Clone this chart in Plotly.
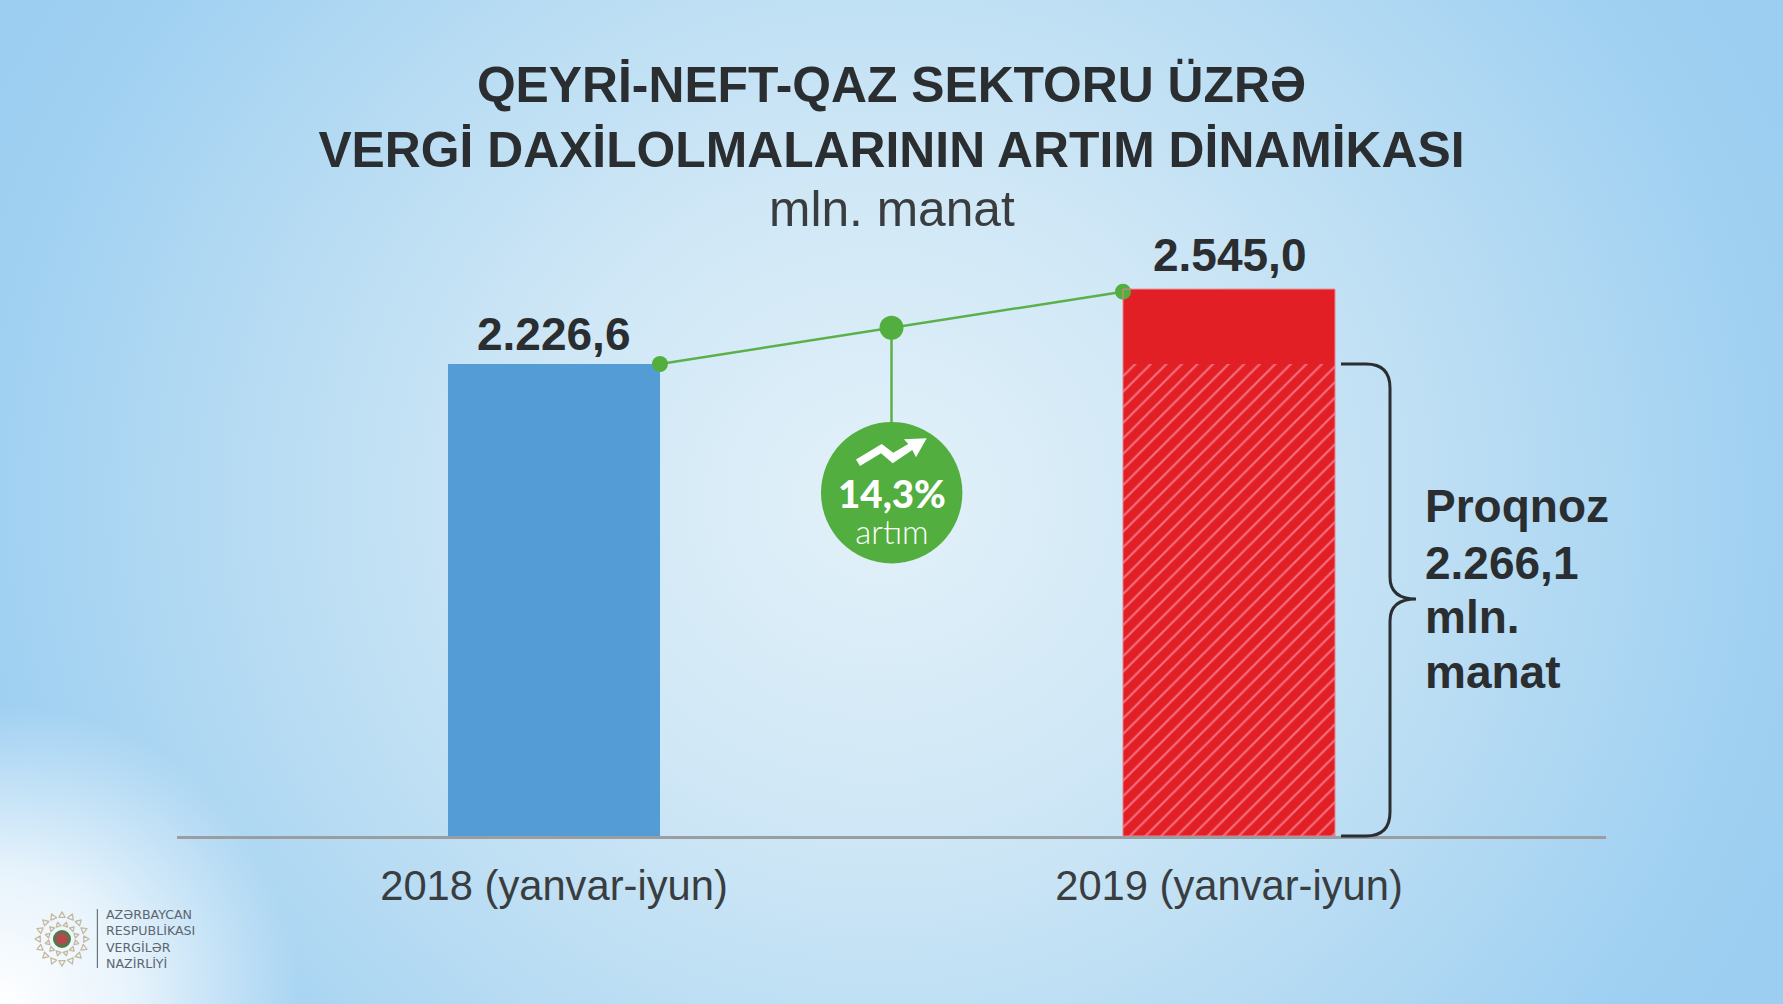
import base64
import math
import plotly.graph_objects as go

# ---------- data ----------
periods = ["2018 (yanvar-iyun)", "2019 (yanvar-iyun)"]
period_pos = [0, 1]
value_labels = ["2.226,6", "2.545,0"]
# heights as drawn in the picture (the 2019 bar is not drawn strictly to scale)
blue_height = [2226.6]
red_forecast_height = [2226.6]
red_extra_height = [353.4]
line_values = [2226.6, 2568.0]
forecast_lines = ["Proqnoz", "2.266,1", "mln.", "manat"]
title_lines = ["QEYRİ-NEFT-QAZ SEKTORU ÜZRƏ", "VERGİ DAXİLOLMALARININ ARTIM DİNAMİKASI"]
subtitle = "mln. manat"
badge_value = "14,3%"
badge_word = "artım"
logo_lines = ["AZƏRBAYCAN", "RESPUBLİKASI", "VERGİLƏR", "NAZİRLİYİ"]

# ---------- layout constants ----------
W, H = 1783, 1004
L, R, T, B = 177, 177, 0, 168
PW, PH = W - L - R, H - T - B
BAR_W = 0.314
INK = "#2B2E30"
GREEN = "#52AE3F"


def px(x):
    return (x - L) / PW


def py(y):
    return 1 - (y - T) / PH


def path(points):
    return "M" + " L".join(f"{px(x):.5f},{py(y):.5f}" for x, y in points) + " Z"


# ---------- background (decorative) ----------
ring = []
for radius, count, size, off in [(23.5, 16, 3.6, 0), (14.5, 12, 2.8, 0.5)]:
    for i in range(count):
        a = (i + off) * 2 * math.pi / count
        cx, cy = 62 + radius * math.cos(a), 939 + radius * math.sin(a)
        pts = []
        for k in range(3):
            b = a + k * 2 * math.pi / 3
            pts.append(f"{cx + size * math.cos(b):.1f},{cy + size * math.sin(b):.1f}")
        ring.append(f'<polygon points="{" ".join(pts)}" fill="none" stroke="#C4B99F" stroke-width="1.3" stroke-linejoin="round"/>')

svg = f'''<svg xmlns="http://www.w3.org/2000/svg" width="{W}" height="{H}" viewBox="0 0 {W} {H}">
<defs>
<radialGradient id="a" gradientUnits="userSpaceOnUse" cx="880" cy="500" r="1000" gradientTransform="translate(880 500) scale(1 0.95) translate(-880 -500)">
<stop offset="0" stop-color="#E2F1F9"/><stop offset="0.35" stop-color="#CFE7F6"/>
<stop offset="0.62" stop-color="#B8DCF3"/><stop offset="0.9" stop-color="#9FD0F2"/><stop offset="1" stop-color="#9CCEF1"/>
</radialGradient>
<radialGradient id="b" gradientUnits="userSpaceOnUse" cx="0" cy="1004" r="300">
<stop offset="0" stop-color="#FFFFFF" stop-opacity="1"/><stop offset="0.45" stop-color="#FFFFFF" stop-opacity="0.75"/>
<stop offset="1" stop-color="#FFFFFF" stop-opacity="0"/>
</radialGradient>
</defs>
<rect width="{W}" height="{H}" fill="url(#a)"/>
<rect width="{W}" height="{H}" fill="url(#b)"/>
{"".join(ring)}
<circle cx="62" cy="939" r="7.5" fill="#B5484E" stroke="#4E7A47" stroke-width="3"/>
<rect x="96.8" y="909" width="1.2" height="59" fill="#6B7278"/>
</svg>'''
bg = "data:image/svg+xml;base64," + base64.b64encode(svg.encode()).decode()

# ---------- traces ----------
fig = go.Figure()
fig.add_bar(x=period_pos[:1], y=blue_height, width=BAR_W, marker=dict(color="#539CD6", line_width=0), showlegend=False)
fig.add_bar(x=period_pos[1:], y=red_forecast_height, width=BAR_W,
            marker=dict(color="#E31F26", line_width=0,
                        pattern=dict(shape="/", bgcolor="#E31F26", fgcolor="#F4707F", fgopacity=1, size=11, solidity=0.2)),
            showlegend=False)
fig.add_bar(x=period_pos[1:], y=red_extra_height, width=BAR_W, marker=dict(color="#E31F26", line_width=0), showlegend=False)

x_left = period_pos[0] + BAR_W / 2
x_right = period_pos[1] - BAR_W / 2
x_mid = (x_left + x_right) / 2
y_mid = sum(line_values) / 2
fig.add_scatter(x=[x_left, x_right], y=line_values, mode="lines+markers",
                line=dict(color="#5AB04A", width=2.5), marker=dict(color=GREEN, size=16), showlegend=False, cliponaxis=False)
fig.add_scatter(x=[x_mid, x_mid], y=[y_mid, 1650], mode="lines", line=dict(color="#5AB04A", width=2.5), showlegend=False)
fig.add_scatter(x=[x_mid], y=[y_mid], mode="markers", marker=dict(color=GREEN, size=24), showlegend=False)

shapes = [
    # badge
    dict(type="circle", xref="paper", yref="paper", x0=px(891.7 - 70.7), x1=px(891.7 + 70.7),
         y0=py(492.7 + 70.7), y1=py(492.7 - 70.7), fillcolor=GREEN, line_width=0),
    # arrow in badge
    dict(type="path", xref="paper", yref="paper", line_width=0, fillcolor="white",
         path=path([(856, 459.5), (881.7, 444), (893.3, 452.7), (908.3, 444), (904, 439.3), (926.7, 438.3),
                    (916, 457.3), (912.3, 450), (892.7, 463.3), (881, 453.3), (860, 466)])),
    # brace
    dict(type="path", xref="paper", yref="paper", line=dict(color=INK, width=3), layer="above",
         path=(f"M{px(1341):.5f},{py(364):.5f} L{px(1366):.5f},{py(364):.5f} "
               f"Q{px(1390):.5f},{py(364):.5f} {px(1390):.5f},{py(388):.5f} "
               f"L{px(1390):.5f},{py(577):.5f} Q{px(1390):.5f},{py(599):.5f} {px(1416):.5f},{py(599):.5f} "
               f"Q{px(1390):.5f},{py(599):.5f} {px(1390):.5f},{py(621):.5f} "
               f"L{px(1390):.5f},{py(812):.5f} Q{px(1390):.5f},{py(836):.5f} {px(1366):.5f},{py(836):.5f} "
               f"L{px(1341):.5f},{py(836):.5f}")),
    # thin pale edge of the 2019 bar
    dict(type="rect", xref="x", yref="y", x0=period_pos[1] - BAR_W / 2, x1=period_pos[1] + BAR_W / 2,
         y0=0, y1=red_forecast_height[0] + red_extra_height[0], line=dict(color="#EE7F8A", width=1), fillcolor="rgba(0,0,0,0)"),
]

SANS = "Liberation Sans"
annotations = [
    dict(x=0.5, y=py(209), xref="paper", yref="paper", text=subtitle, showarrow=False, yanchor="middle",
         font=dict(family=SANS, size=49.7, color="#3A3D40")),
    dict(x=period_pos[0], y=py(334), xref="x", yref="paper", text=f"<b>{value_labels[0]}</b>", showarrow=False, yanchor="middle",
         font=dict(family=SANS, size=46, color=INK)),
    dict(x=period_pos[1], y=py(255), xref="x", yref="paper", text=f"<b>{value_labels[1]}</b>", showarrow=False, yanchor="middle",
         font=dict(family=SANS, size=46, color=INK)),
    dict(x=px(891.7), y=py(510), xref="paper", yref="paper", showarrow=False, yanchor="middle",
         text=(f'<span style="font-size:38.5px;font-weight:900">{badge_value}</span><br>'
               f'<span style="font-size:33px;font-weight:300">{badge_word}</span>'),
         font=dict(family="Lato", size=28, color="white")),
]
for line, yc in zip(forecast_lines, [506, 563, 617, 672]):
    annotations.append(dict(x=px(1423), y=py(yc), xref="paper", yref="paper", xanchor="left", yanchor="middle", text=f"<b>{line}</b>",
                            showarrow=False, font=dict(family=SANS, size=46, color=INK)))
annotations.append(dict(x=px(104), y=py(939), xref="paper", yref="paper", xanchor="left", yanchor="middle", align="left",
                        text="<br>".join(logo_lines), showarrow=False,
                        font=dict(family="DejaVu Sans", size=12.6, color="#5C666E")))

fig.update_layout(
    width=W, height=H, autosize=False, barmode="stack", bargap=0,
    margin=dict(l=L, r=R, t=T, b=B, pad=0),
    paper_bgcolor="#BBDDF3", plot_bgcolor="rgba(0,0,0,0)",
    title=dict(text="<b>" + "<br>".join(title_lines) + "</b>", x=0.5, xanchor="center", xref="paper",
               y=1 - 102 / H, yanchor="top", yref="container",
               font=dict(family=SANS, size=49.8, color=INK)),
    images=[dict(source=bg, xref="paper", yref="paper", x=-L / PW, y=1 + T / PH, sizex=W / PW, sizey=H / PH,
                 xanchor="left", yanchor="top", sizing="stretch", layer="below")],
    shapes=shapes, annotations=annotations,
    xaxis=dict(range=[-0.5585, 1.5585], tickvals=period_pos, ticktext=periods, ticks="", showgrid=False, zeroline=False,
               showline=True, linecolor="#9A9EA0", linewidth=3, ticklabelstandoff=11,
               tickfont=dict(family=SANS, size=41.7, color="#3A3D40")),
    yaxis=dict(range=[0, 3944], visible=False, showgrid=False, zeroline=False),
)

fig.write_html("out.html", config=dict(displayModeBar=False),
               post_script="document.body.style.margin='0';document.body.style.overflow='hidden';")
